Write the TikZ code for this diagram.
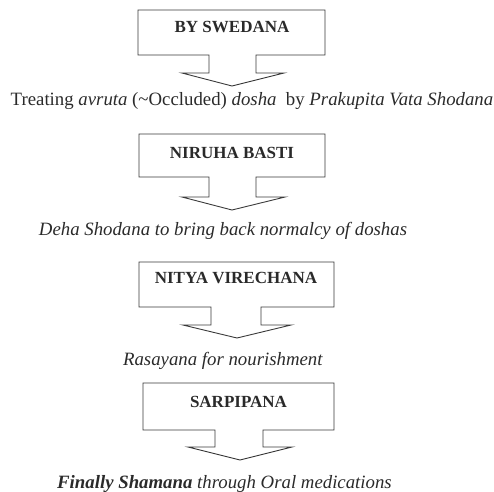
\documentclass[tikz,border=0pt]{standalone}
\usepackage{fontspec}
\setmainfont{Liberation Serif}
\definecolor{ink}{HTML}{2A2A2A}
\definecolor{edge}{HTML}{3A3A3A}
\begin{document}
\begin{tikzpicture}[x=1pt,y=-1pt,
  outline/.style={draw=edge,line width=0.9pt,line join=miter},
  title/.style={font=\fontsize{17}{20}\selectfont\bfseries,text=ink,inner sep=0pt,anchor=center},
  caption/.style={font=\fontsize{18.8}{22}\selectfont,text=ink,inner sep=0pt,anchor=base}]
\useasboundingbox (0,0) rectangle (494,491);
% shape 1
\draw[outline] (138,10) -- (325,10) -- (325,55) -- (256,55) -- (256,73) -- (284,73) -- (232,86) -- (182,73) -- (209,73) -- (209,55) -- (138,55) -- cycle;
\node[title] (t1) at (232,27) {BY SWEDANA};
\node[caption] (c1) at (252,105) {Treating \textit{avruta} (\textasciitilde Occluded) \textit{dosha}\ \ by \textit{Prakupita Vata Shodana}};
% shape 2
\draw[outline] (139,134) -- (325,134) -- (325,177) -- (256,177) -- (256,197) -- (285,197) -- (232,210) -- (182,197) -- (209,197) -- (209,177) -- (139,177) -- cycle;
\node[title] (t2) at (232,153) {NIRUHA BASTI};
\node[caption] (c2) at (223,235) {\textit{Deha Shodana to bring back normalcy of doshas}};
% shape 3
\draw[outline] (139,262) -- (334,262) -- (334,307) -- (261,307) -- (261,325) -- (291,325) -- (237,338) -- (183,325) -- (211,325) -- (211,307) -- (139,307) -- cycle;
\node[title] (t3) at (236,278) {NITYA VIRECHANA};
\node[caption] (c3) at (223,365) {\textit{Rasayana for nourishment}};
% shape 4
\draw[outline] (143,383) -- (334,383) -- (334,430) -- (263,430) -- (263,447) -- (292,447) -- (240,460) -- (188,447) -- (215,447) -- (215,430) -- (143,430) -- cycle;
\node[title] (t4) at (238.5,402) {SARPIPANA};
\node[caption] (c4) at (224.5,488) {\textit{\textbf{Finally Shamana} through Oral medications}};
\end{tikzpicture}
\end{document}
